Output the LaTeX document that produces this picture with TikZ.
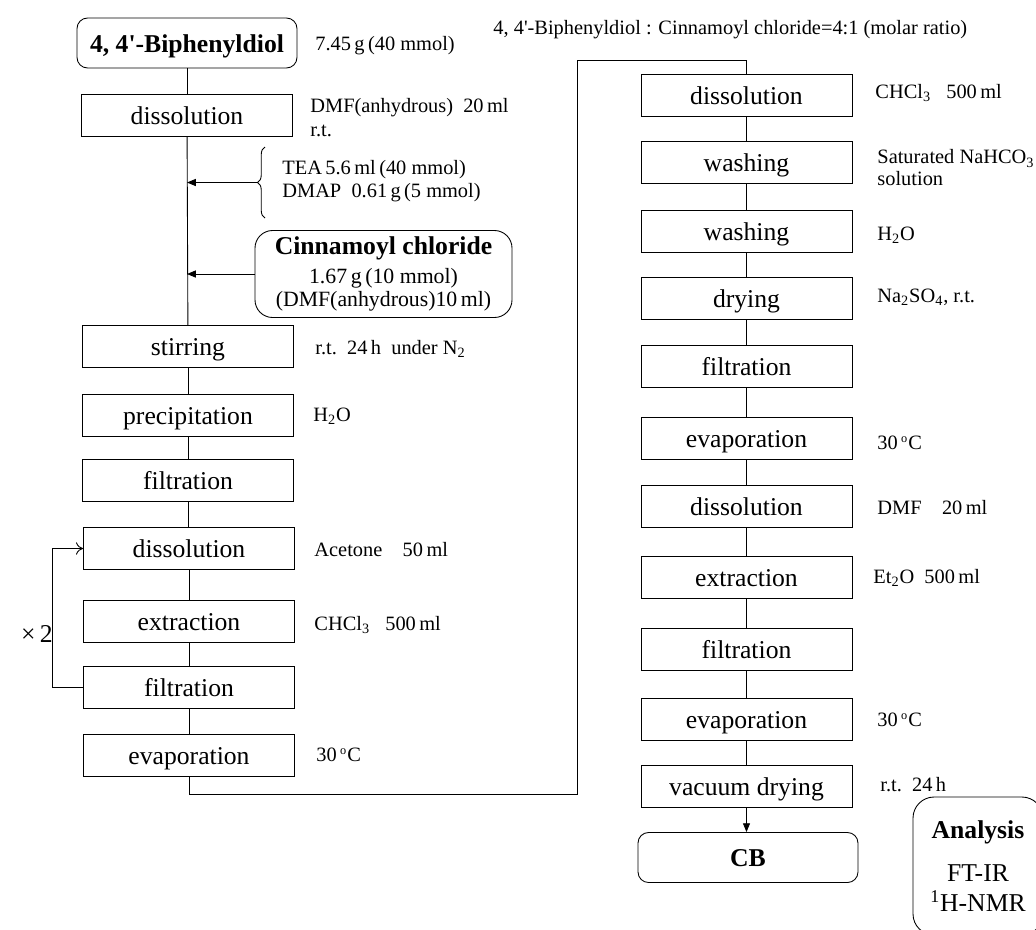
\documentclass[tikz,border=0pt]{standalone}
\usepackage{fontspec}
\setmainfont{Liberation Serif}[Ligatures=TeXOff]
\usetikzlibrary{arrows.meta, decorations.pathreplacing}

\newcommand{\boxfont}{\fontsize{14.6}{17}\selectfont}
\newcommand{\notefont}{\fontsize{11.6}{13.5}\selectfont}
\newcommand{\degC}{\textsuperscript{\fontsize{7}{7}\selectfont o}C}

\begin{document}
\begin{tikzpicture}[
    line width=0.5pt,
    stepbox/.style={draw, minimum width=4.22cm, minimum height=0.84cm, inner sep=0pt,
                    text height=13pt, text depth=2.4pt, font=\boxfont},
    endbox/.style={draw, rounded corners=6pt, minimum width=4.4cm, minimum height=1cm, inner sep=0pt,
                   text height=13pt, text depth=2.4pt, font=\boxfont\bfseries},
    note/.style={anchor=west, inner sep=0pt, align=left, font=\notefont},
    tip/.style={-{Triangle[length=5pt,width=4pt]}}
]
\useasboundingbox (0,0) rectangle (20.72,-18.58);

% ratio
\node[note] (ratio) at (9.86,-0.6) {4, 4'-Biphenyldiol : Cinnamoyl chloride=4:1 (molar ratio)};

% left column
\node[endbox] (bip) at (3.74,-0.86) {4, 4'-Biphenyldiol};
\node[stepbox] (dis1) at (3.74,-2.31) {dissolution};
\node[stepbox] (stir) at (3.76,-6.93) {stirring};
\node[stepbox] (prec) at (3.76,-8.31) {precipitation};
\node[stepbox] (fil1) at (3.76,-9.61) {filtration};
\node[stepbox] (dis2) at (3.78,-10.97) {dissolution};
\node[stepbox] (ext1) at (3.78,-12.43) {extraction};
\node[stepbox] (fil2) at (3.78,-13.74) {filtration};
\node[stepbox] (eva1) at (3.78,-15.11) {evaporation};

\node[note] (n1) at (6.3,-0.92) {7.45\,g\,(40 mmol)};
\node[note] (n2) at (6.2,-2.35) {DMF(anhydrous)\ \ 20\,ml\\r.t.};
\node[note] (base) at (5.64,-3.62) {TEA\,5.6\,ml\,(40 mmol)\\DMAP\ \ 0.61\,g\,(5 mmol)};
\node[note] (n3) at (6.3,-6.98) {r.t.\ \ 24\,h\ \ under N\textsubscript{2}};
\node[note] (n4) at (6.26,-8.32) {H\textsubscript{2}O};
\node[note] (n5) at (6.28,-11.0) {Acetone\quad 50\,ml};
\node[note] (n6) at (6.28,-12.5) {CHCl\textsubscript{3}\ \ \ 500\,ml};
\node[note] (n7) at (6.32,-15.1) {30\,\degC};

% acid chloride feed
\node[draw, rounded corners=10pt, minimum width=5.14cm, minimum height=1.74cm, inner sep=0pt, align=center,
      font=\fontsize{12.4}{13.5}\selectfont] (cinn) at (7.67,-5.48)
      {{\boxfont\bfseries Cinnamoyl chloride}\\[3pt] 1.67\,g\,(10 mmol)\\(DMF(anhydrous)10\,ml)};

% right column
\node[stepbox] (r1) at (14.93,-1.90) {dissolution};
\node[stepbox] (r2) at (14.93,-3.25) {washing};
\node[stepbox] (r3) at (14.93,-4.63) {washing};
\node[stepbox] (r4) at (14.93,-5.96) {drying};
\node[stepbox] (r5) at (14.93,-7.33) {filtration};
\node[stepbox] (r6) at (14.93,-8.77) {evaporation};
\node[stepbox] (r7) at (14.93,-10.13) {dissolution};
\node[stepbox] (r8) at (14.93,-11.55) {extraction};
\node[stepbox] (r9) at (14.93,-12.98) {filtration};
\node[stepbox] (r10) at (14.93,-14.38) {evaporation};
\node[stepbox] (r11) at (14.93,-15.73) {vacuum drying};
\node[endbox] (cb) at (14.96,-17.15) {CB};

\node[note] (m1) at (17.5,-1.86) {CHCl\textsubscript{3}\ \ \ 500\,ml};
\node[note, font=\fontsize{11.6}{12}\selectfont] (m2) at (17.54,-3.35) {Saturated NaHCO\textsubscript{3}\\solution};
\node[note] (m3) at (17.54,-4.7) {H\textsubscript{2}O};
\node[note] (m4) at (17.54,-5.94) {Na\textsubscript{2}SO\textsubscript{4}, r.t.};
\node[note] (m5) at (17.54,-8.86) {30\,\degC};
\node[note] (m6) at (17.54,-10.16) {DMF\quad 20\,ml};
\node[note] (m7) at (17.46,-11.56) {Et\textsubscript{2}O\ \ 500\,ml};
\node[note] (m8) at (17.54,-14.4) {30\,\degC};
\node[note] (m9) at (17.6,-15.7) {r.t.\ \ 24\,h};

\node[draw, rounded corners=12pt, minimum width=2.6cm, minimum height=2.76cm, align=center, font=\boxfont] (ana) at (19.56,-17.32)
      {\textbf{Analysis}\\[8pt]FT-IR\\\textsuperscript{1}H-NMR};

% connectors
\draw (bip) -- (dis1);
\draw (dis1) -- (stir);
\foreach \a/\b in {stir/prec, prec/fil1, fil1/dis2, dis2/ext1, ext1/fil2, fil2/eva1}
    \draw (\a.south) -- (\a.south |- \b.north);
\foreach \a/\b in {r1/r2, r2/r3, r3/r4, r4/r5, r5/r6, r6/r7, r7/r8, r8/r9, r9/r10, r10/r11}
    \draw (\a) -- (\b);
\draw[tip] (r11) -- (r11.south |- cb.north);

% additions
\draw[decorate, decoration={brace, amplitude=0.15cm}] (5.3,-4.36) -- (5.3,-2.94);
\coordinate (bracetip) at (5.15,-3.65);
\draw[tip] (bracetip) -- (bracetip -| dis1.south);
\draw[tip] (cinn.west) -- (cinn.west -| dis1.south);

% repeat loop
\draw[-{To[length=4pt,width=7pt]}] (fil2.west) -- ++(-0.62,0) |- (dis2.west);
\node[font=\boxfont] (rep) at (0.74,-12.68) {×\,2};

% to second column
\coordinate (turn) at (11.54,-1.2);
\draw (eva1.south) -- ++(0,-0.34) -| (turn) -| (r1.north);

\end{tikzpicture}
\end{document}
